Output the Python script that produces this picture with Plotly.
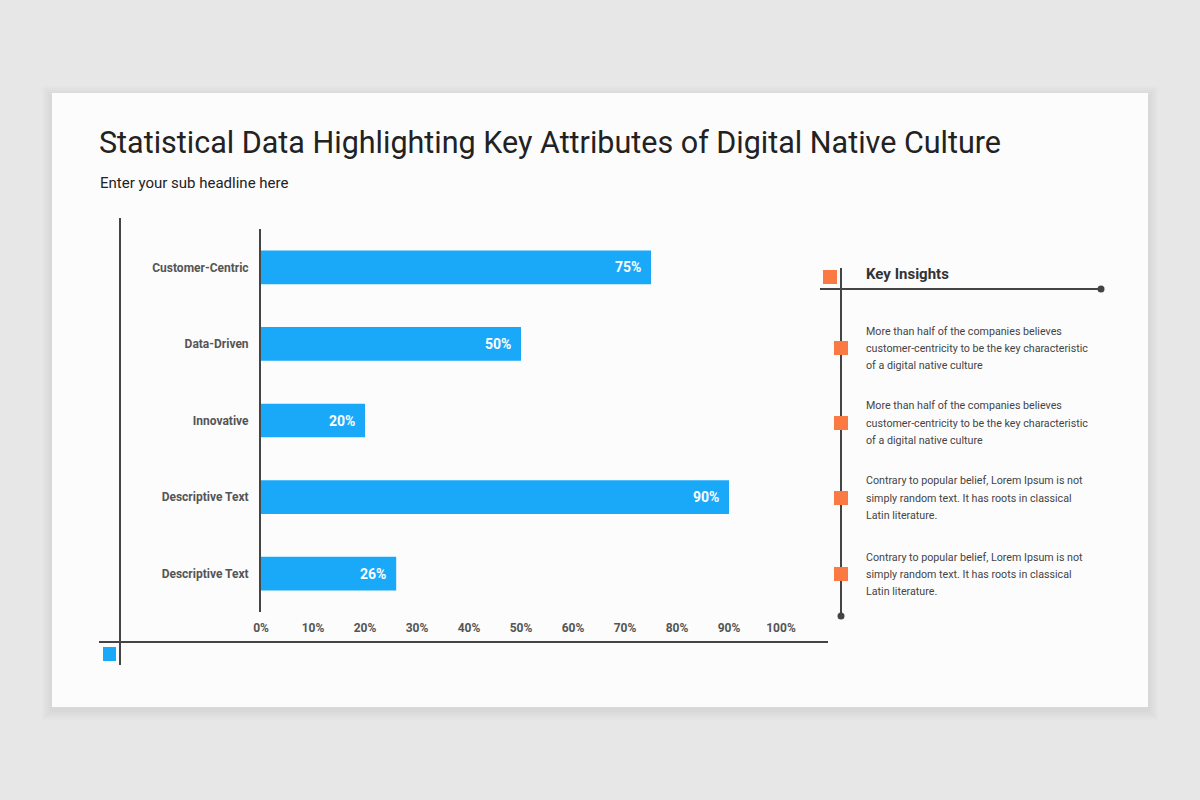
import plotly.graph_objects as go

# chart data
categories = ["Customer-Centric", "Data-Driven", "Innovative", "Descriptive Text", "Descriptive Text"]
values = [75, 50, 20, 90, 26]
tick_vals = [0, 10, 20, 30, 40, 50, 60, 70, 80, 90, 100]
tick_text = [str(v) + "%" for v in tick_vals]

title = "Statistical Data Highlighting Key Attributes of Digital Native Culture"
subtitle = "Enter your sub headline here"
insights_title = "Key Insights"
insights = [
    ["More than half of the companies believes",
     "customer-centricity to be the key characteristic",
     "of a digital native culture"],
    ["More than half of the companies believes",
     "customer-centricity to be the key characteristic",
     "of a digital native culture"],
    ["Contrary to popular belief, Lorem Ipsum is not",
     "simply random text. It has roots in classical",
     "Latin literature."],
    ["Contrary to popular belief, Lorem Ipsum is not",
     "simply random text. It has roots in classical",
     "Latin literature."],
]
insight_y = [348, 423, 498, 574]

W, H = 1200, 800
BLUE = "#19a9f8"
ORANGE = "#fb7a43"
LINE = "#444444"
FONT = "Roboto"


def px(x):
    return x / W


def py(y):
    return 1 - y / H


fig = go.Figure()

# categories repeat, so bars sit on index positions of the y axis
fig.add_trace(go.Bar(
    x=values,
    y=list(range(len(categories))),
    orientation="h",
    marker=dict(color=BLUE, line=dict(width=0)),
    width=0.44,
    hoverinfo="skip",
))

shapes = []
# soft card shadow + card
for d in [10, 8, 6, 4, 2]:
    shapes.append(dict(type="rect", xref="paper", yref="paper",
                       x0=px(52 - d), x1=px(1148 + d), y0=py(707 + d + 3), y1=py(93 - d + 3),
                       fillcolor="rgba(0,0,0,0.012)", line=dict(width=0), layer="below"))
shapes.append(dict(type="rect", xref="paper", yref="paper",
                   x0=px(52), x1=px(1148), y0=py(707), y1=py(93),
                   fillcolor="#fcfcfc", line=dict(width=0), layer="below"))

# left decorative frame
shapes.append(dict(type="line", xref="paper", yref="paper",
                   x0=px(120), x1=px(120), y0=py(218), y1=py(665),
                   line=dict(color=LINE, width=2)))
shapes.append(dict(type="line", xref="paper", yref="paper",
                   x0=px(99), x1=px(828), y0=py(642), y1=py(642),
                   line=dict(color=LINE, width=2)))
shapes.append(dict(type="rect", xref="paper", yref="paper",
                   x0=px(103), x1=px(116), y0=py(661), y1=py(647),
                   fillcolor=BLUE, line=dict(width=0)))

# right insights panel
shapes.append(dict(type="line", xref="paper", yref="paper",
                   x0=px(841), x1=px(841), y0=py(268), y1=py(616),
                   line=dict(color=LINE, width=2)))
shapes.append(dict(type="line", xref="paper", yref="paper",
                   x0=px(820), x1=px(1101), y0=py(289), y1=py(289),
                   line=dict(color=LINE, width=2)))
for cx, cy in [(841, 616), (1101, 289)]:
    shapes.append(dict(type="circle", xref="paper", yref="paper",
                       x0=px(cx - 3.5), x1=px(cx + 3.5), y0=py(cy + 3.5), y1=py(cy - 3.5),
                       fillcolor=LINE, line=dict(width=0)))
shapes.append(dict(type="rect", xref="paper", yref="paper",
                   x0=px(823), x1=px(837), y0=py(284), y1=py(270),
                   fillcolor=ORANGE, line=dict(width=0)))
for yc in insight_y:
    shapes.append(dict(type="rect", xref="paper", yref="paper",
                       x0=px(834), x1=px(848), y0=py(yc + 7), y1=py(yc - 7),
                       fillcolor=ORANGE, line=dict(width=0)))

annotations = [
    dict(text=title, xref="paper", yref="paper", x=px(97), y=py(142),
         xanchor="left", yanchor="middle", showarrow=False,
         font=dict(family=FONT, size=30.5, color="#222222")),
    dict(text=subtitle, xref="paper", yref="paper", x=px(98), y=py(183),
         xanchor="left", yanchor="middle", showarrow=False,
         font=dict(family=FONT, size=15, color="#222222")),
    dict(text="<b>" + insights_title + "</b>", xref="paper", yref="paper", x=px(864), y=py(274),
         xanchor="left", yanchor="middle", showarrow=False,
         font=dict(family=FONT, size=15, color="#333333")),
]
for lines, yc in zip(insights, insight_y):
    for j, line in enumerate(lines):
        annotations.append(dict(text=line, xref="paper", yref="paper",
                                x=px(864), y=py(yc + (j - 1) * 17),
                                xanchor="left", yanchor="middle", showarrow=False,
                                font=dict(family=FONT, size=10.7, color="#444444")))

# value labels inside the bar ends
for i, v in enumerate(values):
    annotations.append(dict(text="<b>%d%%</b>" % v, x=v, y=i, xref="x", yref="y",
                            xanchor="right", yanchor="middle", xshift=-8, showarrow=False,
                            font=dict(family=FONT, size=14, color="white")))

fig.update_layout(
    width=W, height=H,
    autosize=False,
    margin=dict(l=0, r=0, t=0, b=0, pad=0),
    paper_bgcolor="#e8e7e8",
    plot_bgcolor="rgba(0,0,0,0)",
    showlegend=False,
    shapes=shapes,
    annotations=annotations,
    xaxis=dict(
        domain=[px(261), px(781)],
        range=[0, 100],
        tickvals=tick_vals,
        ticktext=["<b>" + t + "</b>" for t in tick_text],
        tickfont=dict(family=FONT, size=12, color="#555555"),
        showgrid=False, zeroline=False, showline=False,
        ticks="", ticklabelstandoff=7,
        automargin=False, fixedrange=True,
    ),
    yaxis=dict(
        domain=[py(612), py(229)],
        range=[len(categories) - 0.5, -0.5],
        tickvals=list(range(len(categories))),
        ticktext=["<b>" + c + "</b>" for c in categories],
        tickfont=dict(family=FONT, size=12, color="#555555"),
        showgrid=False, zeroline=False,
        showline=True, linecolor=LINE, linewidth=2,
        ticks="", ticklabelstandoff=8,
        automargin=False, fixedrange=True,
    ),
)

fig.write_html("out.html", config={"displayModeBar": False},
               post_script="document.body.style.margin='0';document.body.style.overflow='hidden';")
